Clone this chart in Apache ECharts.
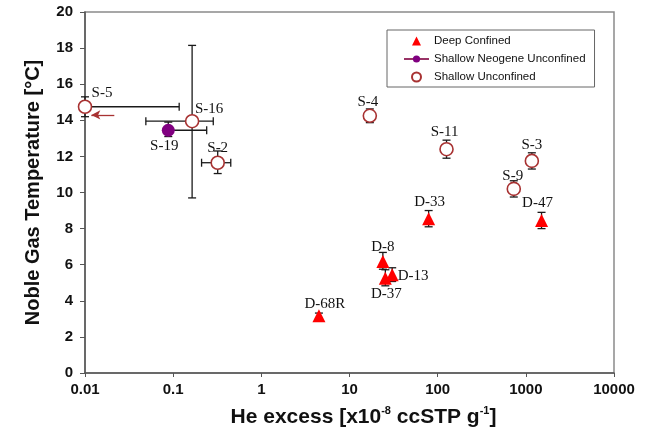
<!DOCTYPE html>
<html>
<head>
<meta charset="utf-8">
<script src="https://cdn.jsdelivr.net/npm/echarts@6/dist/echarts.min.js"></script>
<style>
  html, body { margin: 0; padding: 0; background: #fff; }
  #chart { width: 649px; height: 435px; }
</style>
</head>
<body>
<div id="chart"></div>
<script>
const X_TICKS = [0.01, 0.1, 1, 10, 100, 1000, 10000];

const DEEP_NAMES = ["D-33", "D-47", "D-8", "D-13", "D-37", "D-68R"];
const DEEP_HE = [79, 1507, 23.9, 30.5, 25.5, 4.5];
const DEEP_T = [8.55, 8.45, 6.18, 5.45, 5.25, 3.17];
const DEEP_T_LO = [8.1, 8.0, 5.75, 5.07, 4.83, 3.02];
const DEEP_T_HI = [9.0, 8.9, 6.68, 5.83, 5.72, 3.32];

const NEOGENE_NAMES = ["S-19"];
const NEOGENE_HE = [0.088];
const NEOGENE_T = [13.45];
const NEOGENE_HE_LO = [0.088];
const NEOGENE_HE_HI = [0.24];
const NEOGENE_T_LO = [13.1];
const NEOGENE_T_HI = [13.9];

const SHALLOW_NAMES = ["S-5", "S-16", "S-2", "S-4", "S-11", "S-3", "S-9"];
const SHALLOW_HE = [0.01, 0.164, 0.32, 17, 126, 1170, 730];
const SHALLOW_T = [14.75, 13.95, 11.65, 14.25, 12.4, 11.75, 10.2];
const SHALLOW_HE_LO = [0.01, 0.049, 0.21, 17, 126, 1170, 730];
const SHALLOW_HE_HI = [0.117, 0.285, 0.45, 17, 126, 1170, 730];
const SHALLOW_T_LO = [14.2, 9.7, 11.05, 13.87, 11.9, 11.3, 9.75];
const SHALLOW_T_HI = [15.3, 18.15, 12.3, 14.63, 12.9, 12.2, 10.65];

// arrow next to S-5
const ARROW_HE = [0.0215, 0.0118];
const ARROW_T = 14.3;

// label offsets in pixels from the point centre
const LABEL_OFFSET = {
  "S-5": [17, -14], "S-16": [17, -12], "S-19": [-4, 16], "S-2": [0, -15],
  "S-4": [-2, -14], "S-11": [-2, -17], "S-3": [0, -16], "S-9": [-1, -13],
  "D-33": [1, -17], "D-47": [-4, -17], "D-8": [0, -14], "D-13": [21, 1],
  "D-37": [1, 16], "D-68R": [6, -12],
};

const CIRCLE_RED = "#a83232";
const SANS = "Liberation Sans, Arial, sans-serif";
const SERIF = "Liberation Serif, Times New Roman, serif";
// triangle centred in a 25x9 box so the legend icon is not stretched
const LEGEND_TRIANGLE = "path://M0,9L0,9M12.5,0L17,9L8,9ZM25,9L25,9";

function pointData(names, xs, ys) {
  return names.map((name, i) => ({
    name,
    value: [xs[i], ys[i]],
    label: { offset: LABEL_OFFSET[name] || [0, 0] },
  }));
}

function errorData(xs, ys, xlo, xhi, ylo, yhi) {
  return xs.map((x, i) => [x, ys[i], xlo ? xlo[i] : x, xhi ? xhi[i] : x, ylo[i], yhi[i]]);
}

function renderErrorBars(params, api) {
  const x = api.value(0);
  const y = api.value(1);
  const cap = 4;
  const style = { stroke: "#1a1a1a", lineWidth: 1.3 };
  const children = [];

  const yl = api.value(4);
  const yh = api.value(5);
  if (yl !== yh) {
    const p1 = api.coord([x, yl]);
    const p2 = api.coord([x, yh]);
    children.push({ type: "line", shape: { x1: p1[0], y1: p1[1], x2: p2[0], y2: p2[1] }, style });
    children.push({ type: "line", shape: { x1: p1[0] - cap, y1: p1[1], x2: p1[0] + cap, y2: p1[1] }, style });
    children.push({ type: "line", shape: { x1: p2[0] - cap, y1: p2[1], x2: p2[0] + cap, y2: p2[1] }, style });
  }

  const xl = api.value(2);
  const xh = api.value(3);
  if (xl !== xh) {
    const p1 = api.coord([xl, y]);
    const p2 = api.coord([xh, y]);
    children.push({ type: "line", shape: { x1: p1[0], y1: p1[1], x2: p2[0], y2: p2[1] }, style });
    if (xl !== x) {
      children.push({ type: "line", shape: { x1: p1[0], y1: p1[1] - cap, x2: p1[0], y2: p1[1] + cap }, style });
    }
    if (xh !== x) {
      children.push({ type: "line", shape: { x1: p2[0], y1: p2[1] - cap, x2: p2[0], y2: p2[1] + cap }, style });
    }
  }

  return { type: "group", children };
}

function errorSeries(data) {
  return {
    type: "custom",
    renderItem: renderErrorBars,
    data,
    z: 1,
    silent: true,
    clip: false,
    encode: { x: [0, 2, 3], y: [1, 4, 5] },
  };
}

const pointLabel = {
  show: true,
  formatter: "{b}",
  position: "inside",
  fontFamily: SERIF,
  fontWeight: "normal",
  fontSize: 15,
  color: "#111",
};

const chart = echarts.init(document.getElementById("chart"));

chart.setOption({
  animation: false,
  grid: {
    left: 85, right: 35, top: 12, bottom: 62,
    show: true, borderColor: "#8a8a8a", borderWidth: 1.5,
  },
  legend: {
    left: 387, top: 30,
    orient: "vertical",
    backgroundColor: "#fff",
    borderColor: "#666", borderWidth: 1,
    padding: [5, 9, 4, 16],
    itemGap: 6,
    itemWidth: 25, itemHeight: 9,
    itemTextGap: 3,
    textStyle: { fontFamily: SANS, fontSize: 11.5, color: "#111" },
    data: [
      { name: "Deep Confined", icon: LEGEND_TRIANGLE },
      { name: "Shallow Neogene Unconfined" },
      { name: "Shallow Unconfined", icon: "circle" },
    ],
  },
  xAxis: {
    type: "log",
    logBase: 10,
    min: X_TICKS[0],
    max: X_TICKS[X_TICKS.length - 1],
    name: "{a|He excess [x10}{s|-8}{a| ccSTP g}{s|-1}{a|]}",
    nameLocation: "middle",
    nameGap: 32,
    nameTextStyle: {
      padding: [0, 0, 0, 28],
      rich: {
        a: { fontFamily: SANS, fontWeight: "bold", fontSize: 21, color: "#111", lineHeight: 24 },
        s: { fontFamily: SANS, fontWeight: "bold", fontSize: 11, color: "#111", verticalAlign: "top", lineHeight: 24, padding: [0, 0, 10, 0] },
      },
    },
    axisLine: { lineStyle: { color: "#555", width: 1.5 } },
    axisTick: { inside: false, length: 4, lineStyle: { color: "#555" } },
    axisLabel: {
      margin: 9,
      fontFamily: SANS, fontWeight: "bold", fontSize: 15, color: "#111",
      formatter: (v) => String(+Number(v).toPrecision(6)),
    },
    splitLine: { show: false },
    minorTick: { show: false },
  },
  yAxis: {
    type: "value",
    min: 0, max: 20, interval: 2,
    name: "Noble Gas Temperature [°C]",
    nameLocation: "middle",
    nameGap: 42,
    nameTextStyle: { fontFamily: SANS, fontWeight: "bold", fontSize: 20, color: "#111" },
    axisLine: { show: true, lineStyle: { color: "#555", width: 1.5 } },
    axisTick: { show: true, inside: false, length: 5, lineStyle: { color: "#555" } },
    axisLabel: { margin: 12, fontFamily: SANS, fontWeight: "bold", fontSize: 15, color: "#111" },
    splitLine: { show: false },
  },
  series: [
    errorSeries(errorData(DEEP_HE, DEEP_T, null, null, DEEP_T_LO, DEEP_T_HI)),
    errorSeries(errorData(NEOGENE_HE, NEOGENE_T, NEOGENE_HE_LO, NEOGENE_HE_HI, NEOGENE_T_LO, NEOGENE_T_HI)),
    errorSeries(errorData(SHALLOW_HE, SHALLOW_T, SHALLOW_HE_LO, SHALLOW_HE_HI, SHALLOW_T_LO, SHALLOW_T_HI)),
    {
      name: "Deep Confined",
      type: "scatter",
      symbol: "triangle",
      symbolSize: [13, 13],
      itemStyle: { color: "#ff0000", opacity: 1 },
      label: pointLabel,
      clip: false,
      z: 3,
      data: pointData(DEEP_NAMES, DEEP_HE, DEEP_T),
    },
    {
      // legend entry only (line with marker)
      name: "Shallow Neogene Unconfined",
      type: "line",
      symbol: "circle",
      symbolSize: 9,
      lineStyle: { color: "#993366", width: 1.5 },
      itemStyle: { color: "#800080" },
      data: [],
    },
    {
      name: "Shallow Neogene Unconfined",
      type: "scatter",
      symbol: "circle",
      symbolSize: 13,
      itemStyle: { color: "#800080", opacity: 1 },
      label: pointLabel,
      clip: false,
      z: 3,
      data: pointData(NEOGENE_NAMES, NEOGENE_HE, NEOGENE_T),
    },
    {
      name: "Shallow Unconfined",
      type: "scatter",
      symbol: "circle",
      symbolSize: 13,
      itemStyle: { color: "#fff", borderColor: CIRCLE_RED, borderWidth: 1.6, opacity: 1 },
      label: pointLabel,
      clip: false,
      z: 3,
      data: pointData(SHALLOW_NAMES, SHALLOW_HE, SHALLOW_T),
      markLine: {
        silent: true,
        animation: false,
        label: { show: false },
        lineStyle: { color: CIRCLE_RED, width: 1.3, type: "solid" },
        symbolSize: [7, 9],
        data: [[
          { coord: [ARROW_HE[0], ARROW_T], symbol: "none" },
          { coord: [ARROW_HE[1], ARROW_T], symbol: "arrow" },
        ]],
      },
    },
  ],
});
</script>
</body>
</html>
